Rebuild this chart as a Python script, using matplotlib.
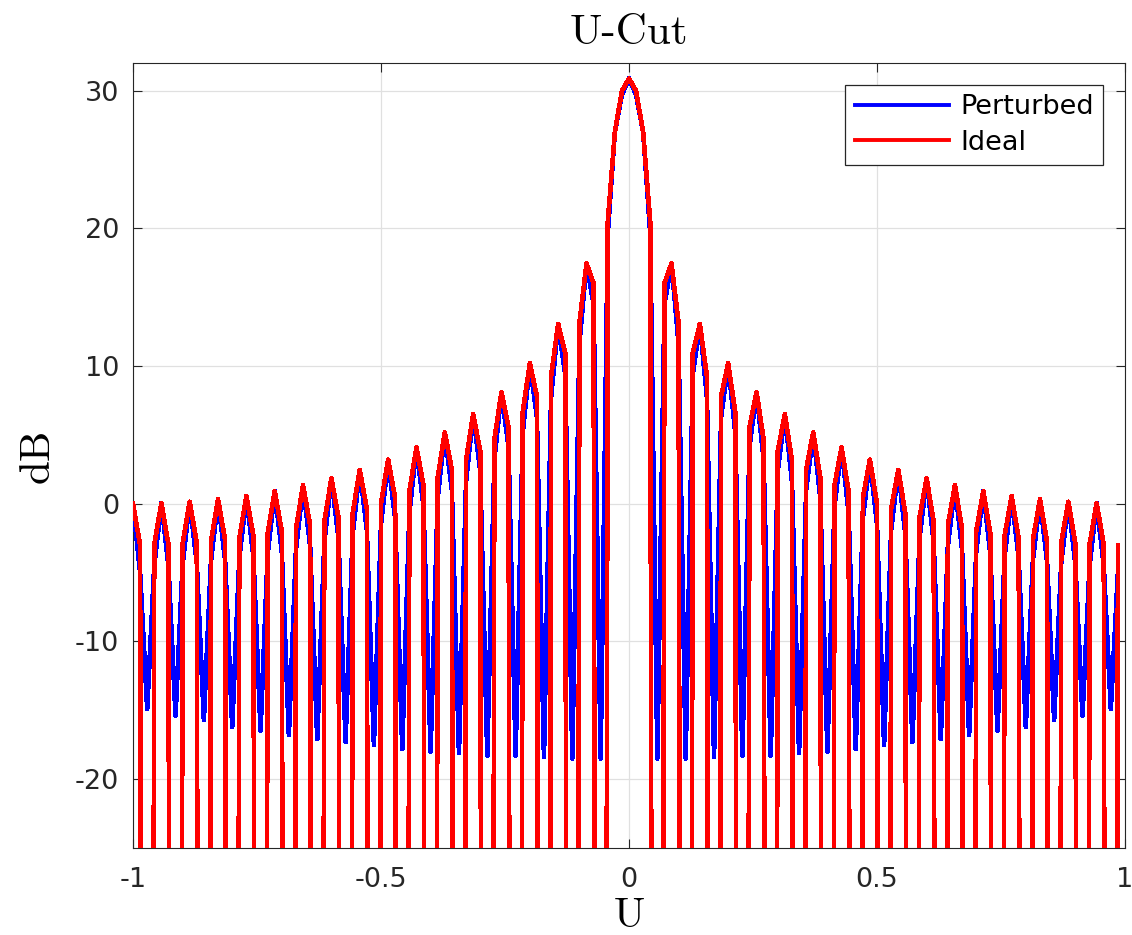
import numpy as np
import matplotlib
matplotlib.use("Agg")
import matplotlib.pyplot as plt

# ---- data ----
# Pattern sampled on u = n/70, n = -70 ... 69 ; values given for n = 0 ... 70
# (the cut is symmetric, the negative side mirrors these values).
# -300 marks the deep nulls of the ideal pattern (far below the axis).
ideal_half_db = [
    30.88, 29.97, 26.96, 20.43, -300.0,
    16.01, 17.44, 13.10, -300.0,
    10.94, 13.05, 9.23, -300.0,
    7.81, 10.20, 6.61, -300.0,
    5.57, 8.11, 4.66, -300.0,
    3.85, 6.49, 3.12, -300.0,
    2.47, 5.18, 1.88, -300.0,
    1.34, 4.10, 0.85, -300.0,
    0.41, 3.21, 0.00, -300.0,
    -0.38, 2.46, -0.71, -300.0,
    -1.02, 1.84, -1.31, -300.0,
    -1.57, 1.33, -1.80, -300.0,
    -2.01, 0.91, -2.20, -300.0,
    -2.36, 0.57, -2.51, -300.0,
    -2.64, 0.32, -2.74, -300.0,
    -2.83, 0.14, -2.90, -300.0,
    -2.96, 0.04, -2.99, -300.0,
    -3.01, 0.00,
]

perturbed_half_db = [
    30.88, 29.70, 26.96, 19.60, -18.5,
    14.50, 17.44, 11.60, -18.5,
    9.40, 13.05, 7.70, -18.4,
    6.30, 10.20, 5.10, -18.3,
    4.10, 8.11, 3.20, -18.3,
    2.40, 6.49, 1.60, -18.1,
    1.00, 5.18, 0.40, -18.0,
    -0.20, 4.10, -0.70, -17.8,
    -1.10, 3.21, -1.50, -17.5,
    -1.90, 2.46, -2.20, -17.3,
    -2.50, 1.84, -2.80, -17.1,
    -3.10, 1.33, -3.30, -16.8,
    -3.50, 0.91, -3.70, -16.5,
    -3.90, 0.57, -4.00, -16.2,
    -4.10, 0.32, -4.20, -15.7,
    -4.30, 0.14, -4.40, -15.4,
    -4.50, 0.04, -4.50, -14.9,
    -5.00, 0.00,
]

x_ticks = [-1, -0.5, 0, 0.5, 1]
x_tick_labels = ["-1", "-0.5", "0", "0.5", "1"]
y_ticks = [-20, -10, 0, 10, 20, 30]
y_tick_labels = ["-20", "-10", "0", "10", "20", "30"]


def mirror(half):
    half = np.asarray(half, dtype=float)
    return np.concatenate([half[70:0:-1], half[0:70]])


u = np.arange(-70, 70) / 70.0
ideal = mirror(ideal_half_db)
perturbed = mirror(perturbed_half_db)

# ---- figure ----
W, H = 1132, 935
fig = plt.figure(figsize=(W / 100, H / 100), dpi=100)
ax = fig.add_axes([133 / W, 1 - 848 / H, (1125 - 133) / W, (848 - 63) / H])

dark = "#262626"
ax.plot(u, perturbed, color=(0, 0, 1), lw=2.6, label="Perturbed", zorder=3,
        antialiased=False)
ax.plot(u, ideal, color=(1, 0, 0), lw=2.6, label="Ideal", zorder=4,
        antialiased=False)

ax.set_xlim(-1, 1)
ax.set_ylim(-25, 32)
ax.set_xticks(x_ticks)
ax.set_xticklabels(x_tick_labels)
ax.set_yticks(y_ticks)
ax.set_yticklabels(y_tick_labels)

ax.grid(True, color="#e0e0e0", lw=0.9)
ax.set_axisbelow(True)
ax.tick_params(direction="in", length=6.5, width=0.8, color=dark,
               labelcolor=dark, labelsize=19.5, top=True, right=True)
ax.tick_params(axis="x", pad=14)
ax.tick_params(axis="y", pad=10)
for s in ax.spines.values():
    s.set_color(dark)
    s.set_linewidth(0.8)

ax.set_title("U-Cut", fontfamily="cmr10", fontsize=31, pad=14, color="black")
ax.set_xlabel("U", fontfamily="cmr10", fontsize=30, labelpad=3, color="black")
ax.set_ylabel("dB", fontfamily="cmr10", fontsize=31, labelpad=13, color="black")

leg = ax.legend(loc="upper right", fontsize=19.5, frameon=True, fancybox=False,
                framealpha=1, edgecolor=dark, borderaxespad=0.8,
                handlelength=3.5, handletextpad=0.4, labelspacing=0.35,
                borderpad=0.35)
leg.get_frame().set_linewidth(0.9)
for line in leg.get_lines():
    line.set_linewidth(2.8)

fig.savefig("out.png", dpi=100)
